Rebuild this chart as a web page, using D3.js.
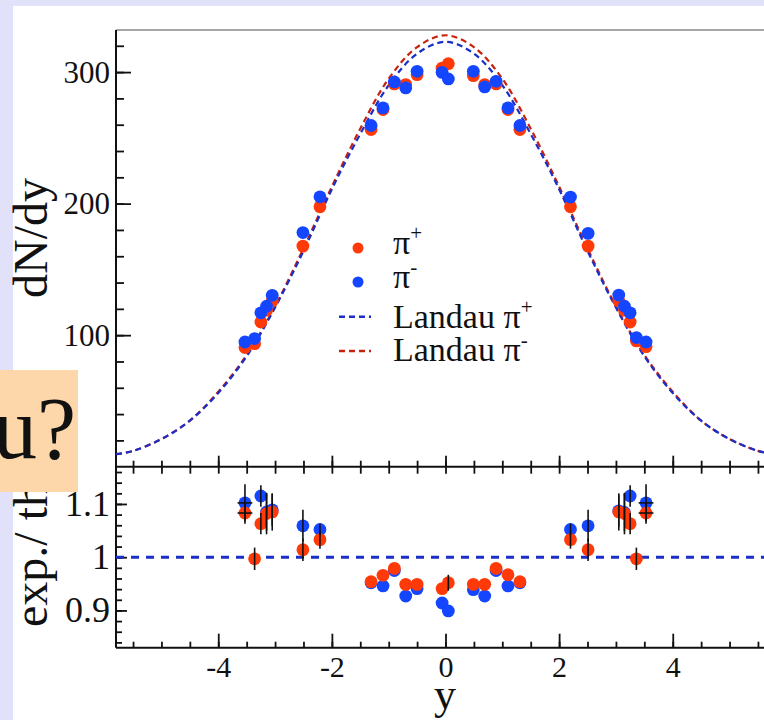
<!DOCTYPE html>
<html>
<head>
<meta charset="utf-8">
<script src="https://cdn.jsdelivr.net/npm/d3@7"></script>
<style>
  html, body { margin: 0; padding: 0; background: #e1e1f9; }
  svg { display: block; }
  text { font-family: "Liberation Serif", "DejaVu Serif", serif; fill: #111; }
</style>
</head>
<body>
<svg id="chart" width="764" height="720"></svg>
<script>
// rapidity of the measured points
var rapidity = [-3.53, -3.36, -3.25, -3.15, -3.05, -2.51, -2.21, -1.31, -1.10, -0.90, -0.70, -0.50, -0.06,
                0.05, 0.49, 0.69, 0.89, 1.10, 1.31, 2.20, 2.51, 3.05, 3.15, 3.25, 3.36, 3.53];
// dN/dy, pi+ (red) and pi- (blue)
var piPlus  = [90.6, 93.5, 110, 119, 126, 167.7, 197.6, 256.3, 271.5, 291, 290.5, 298, 303,
               306.4, 297.3, 290.5, 291, 271.5, 256.3, 197.6, 167.7, 126, 119, 110, 95.6, 91.3];
var piMinus = [94.8, 97.4, 117, 122, 130.3, 178, 205.2, 259.4, 272.8, 292.5, 288, 300.6, 299.8,
               294.8, 300.6, 288.7, 293, 272.8, 259.4, 205, 177.4, 130.5, 122, 117, 98.2, 94.8];
// exp./theory ratios
var ratioPlus  = [1.083, 0.997, 1.063, 1.082, 1.085, 1.014, 1.033, 0.954, 0.966, 0.979, 0.949, 0.949, 0.941,
                  0.952, 0.949, 0.949, 0.979, 0.967, 0.954, 1.033, 1.014, 1.085, 1.082, 1.063, 0.997, 1.083];
var ratioMinus = [1.102, null, 1.115, 1.085, 1.089, 1.059, 1.052, 0.952, 0.946, 0.975, 0.927, 0.941, 0.914,
                  0.899, 0.939, 0.927, 0.975, 0.946, 0.952, 1.052, 1.059, 1.087, 1.084, 1.115, null, 1.102];
var errPlus  = [0.02, 0.021, 0.02, 0.039, 0.035, 0.021, 0.017, 0, 0, 0, 0, 0, 0,
                0.015, 0, 0, 0, 0, 0, 0.017, 0.021, 0.035, 0.039, 0.02, 0.021, 0.02];
var errMinus = [0.035, 0, 0.02, 0.035, 0.03, 0.03, 0.011, 0, 0, 0, 0, 0, 0,
                0, 0, 0, 0, 0, 0, 0.011, 0.03, 0.03, 0.035, 0.02, 0, 0.035];
var xErr = [0.13, 0, 0, 0, 0, 0, 0, 0, 0, 0, 0, 0, 0,
            0, 0, 0, 0, 0, 0, 0, 0, 0, 0, 0, 0, 0.13];

// Landau hydro curves
var curveY = [-5.8, -5.5, -5, -4.5, -4, -3.5, -3, -2.5, -2, -1.5, -1, -0.5, 0,
              0.5, 1, 1.5, 2, 2.5, 3, 3.5, 4, 4.5, 5, 5.5, 5.8];
var landauPlus  = [9.5, 12, 21, 35, 56, 84, 121, 164, 211, 253, 290, 314, 323,
                   314, 290, 253, 211, 164, 121, 84, 56, 35, 21, 12, 9.5];
var landauMinus = [9.5, 12, 21, 35, 57, 85, 122, 166, 213, 257, 295, 319, 328,
                   319, 295, 257, 213, 166, 122, 85, 57, 35, 21, 12, 9.5];

var xTicks = [-4, -2, 0, 2, 4];
var yTicksTop = [100, 200, 300];
var yTicksBot = [0.9, 1, 1.1];

var red = '#ff3a08', blue = '#1446ff',
    redLine = '#c8220e', blueLine = '#1a2fc8';

var svg = d3.select('#chart');

svg.append('rect').attr('x', 13).attr('y', 6).attr('width', 751).attr('height', 714).attr('fill', 'white');

var x = d3.scaleLinear().domain([-5.8, 5.8]).range([116, 775]);
var yTop = d3.scaleLinear().domain([0, 332]).range([466.7, 30]);
var yBot = d3.scaleLinear().domain([0.83, 1.17]).range([647.7, 466.7]);

var clip = svg.append('clipPath').attr('id', 'clipTop');
clip.append('rect').attr('x', 116).attr('y', 30).attr('width', 660).attr('height', 437);

// helper: draw one axis group and style it
function axis(gen, tx, ty, len, labels, pad, size) {
    var g = svg.append('g').attr('transform', 'translate(' + tx + ',' + ty + ')')
        .call(gen.tickSize(len).tickPadding(pad || 6)
            .tickFormat(labels ? function(d){ return String(d); } : ''));
    g.select('.domain').remove();
    g.selectAll('line').attr('stroke', '#111').attr('stroke-width', 1.8);
    g.selectAll('text').style('font-size', (size || 31) + 'px')
        .style('font-family', '"Liberation Serif", serif').attr('fill', '#111');
    return g;
}

function minorTicks(a, b, step) {
    var out = [];
    for (var v = a; v <= b + 1e-9; v += step) out.push(+v.toFixed(4));
    return out;
}

// ---- upper panel ----
axis(d3.axisLeft(yTop).tickValues(minorTicks(20, 320, 20)), 116, 0, -8, false);
axis(d3.axisLeft(yTop).tickValues(yTicksTop), 116, 0, -15, true, 6);
axis(d3.axisBottom(x).tickValues(minorTicks(-5.5, 5.5, 0.5)), 0, 466.7, -6, false);
axis(d3.axisBottom(x).tickValues(xTicks), 0, 466.7, -11, false);

// frame lines
svg.append('line').attr('x1', 116).attr('x2', 764).attr('y1', 30).attr('y2', 30)
    .attr('stroke', '#888').attr('stroke-width', 1.5);
svg.append('line').attr('x1', 116).attr('x2', 116).attr('y1', 30).attr('y2', 647.7)
    .attr('stroke', '#111').attr('stroke-width', 2);
svg.append('line').attr('x1', 116).attr('x2', 764).attr('y1', 466.7).attr('y2', 466.7)
    .attr('stroke', '#111').attr('stroke-width', 2);
svg.append('line').attr('x1', 116).attr('x2', 764).attr('y1', 647.7).attr('y2', 647.7)
    .attr('stroke', '#111').attr('stroke-width', 2);

var line = d3.line().curve(d3.curveCatmullRom)
    .x(function(d){ return x(d[0]); }).y(function(d){ return yTop(d[1]); });

var curves = svg.append('g').attr('clip-path', 'url(#clipTop)');
curves.append('path').datum(d3.zip(curveY, landauMinus)).attr('d', line)
    .attr('fill', 'none').attr('stroke', redLine).attr('stroke-width', 2.2).attr('stroke-dasharray', '6,4');
curves.append('path').datum(d3.zip(curveY, landauPlus)).attr('d', line)
    .attr('fill', 'none').attr('stroke', blueLine).attr('stroke-width', 2.2).attr('stroke-dasharray', '6,4');

svg.append('g').selectAll('circle').data(d3.zip(rapidity, piPlus)).enter()
    .append('circle').attr('cx', function(d){ return x(d[0]); }).attr('cy', function(d){ return yTop(d[1]); })
    .attr('r', 6.4).attr('fill', red);
svg.append('g').selectAll('circle').data(d3.zip(rapidity, piMinus)).enter()
    .append('circle').attr('cx', function(d){ return x(d[0]); }).attr('cy', function(d){ return yTop(d[1]); })
    .attr('r', 6.4).attr('fill', blue);

// legend
var legend = svg.append('g');
legend.append('circle').attr('cx', 358).attr('cy', 248).attr('r', 5.5).attr('fill', red);
legend.append('circle').attr('cx', 358).attr('cy', 282).attr('r', 5.5).attr('fill', blue);
legend.append('line').attr('x1', 339).attr('x2', 371).attr('y1', 316.7).attr('y2', 316.7)
    .attr('stroke', blueLine).attr('stroke-width', 2.4).attr('stroke-dasharray', '6,4');
legend.append('line').attr('x1', 339).attr('x2', 371).attr('y1', 351).attr('y2', 351)
    .attr('stroke', redLine).attr('stroke-width', 2.4).attr('stroke-dasharray', '6,4');
var legendRows = [['', '+', 254], ['', '-', 288], ['Landau ', '+', 328], ['Landau ', '-', 361]];
legendRows.forEach(function(r) {
    var t = legend.append('text').attr('x', 393).attr('y', r[2]).style('font-size', '34px');
    t.append('tspan').text(r[0] + '\u03c0');
    t.append('tspan').attr('dy', -14).style('font-size', '21px').text(r[1]);
});

// ---- lower panel ----
axis(d3.axisLeft(yBot).tickValues(minorTicks(0.84, 1.16, 0.02)), 116, 0, -6, false);
axis(d3.axisLeft(yBot).tickValues(yTicksBot), 116, 0, -11, true, 6, 36);
axis(d3.axisTop(x).tickValues(minorTicks(-5.5, 5.5, 0.5)), 0, 466.7, -7, false);
axis(d3.axisBottom(x).tickValues(minorTicks(-5.5, 5.5, 0.5)), 0, 647.7, -6, false);
axis(d3.axisBottom(x).tickValues(xTicks), 0, 647.7, -14, true, 8, 30);

svg.append('line').attr('x1', 116).attr('x2', 764).attr('y1', yBot(1)).attr('y2', yBot(1))
    .attr('stroke', blueLine).attr('stroke-width', 3).attr('stroke-dasharray', '8,7');

function ratioPoints(vals, colour) {
    var pts = rapidity.map(function(r, i){ return [r, vals[i]]; })
        .filter(function(d){ return d[1] !== null; });
    svg.append('g').selectAll('circle').data(pts).enter()
        .append('circle').attr('cx', function(d){ return x(d[0]); }).attr('cy', function(d){ return yBot(d[1]); })
        .attr('r', 6.4).attr('fill', colour);
}
ratioPoints(ratioMinus, blue);
ratioPoints(ratioPlus, red);

function errorBars(vals, errs) {
    var g = svg.append('g').attr('stroke', '#111').attr('stroke-width', 1.6);
    rapidity.forEach(function(r, i) {
        if (vals[i] === null) return;
        if (errs[i] > 0)
            g.append('line').attr('x1', x(r)).attr('x2', x(r))
                .attr('y1', yBot(vals[i] - errs[i])).attr('y2', yBot(vals[i] + errs[i]));
        if (xErr[i] > 0)
            g.append('line').attr('x1', x(r - xErr[i])).attr('x2', x(r + xErr[i]))
                .attr('y1', yBot(vals[i])).attr('y2', yBot(vals[i]));
    });
}
errorBars(ratioMinus, errMinus);
errorBars(ratioPlus, errPlus);

// axis titles
svg.append('text').attr('transform', 'translate(47,238) rotate(-90)')
    .attr('text-anchor', 'middle').style('font-size', '48px').text('dN/dy');
svg.append('text').attr('transform', 'translate(47,627) rotate(-90)')
    .attr('text-anchor', 'start').style('font-size', '48px').text('exp./ th');
svg.append('text').attr('x', 445).attr('y', 709).attr('text-anchor', 'middle')
    .style('font-size', '44px').text('y');

// overlay box from the slide
svg.append('rect').attr('x', 0).attr('y', 370).attr('width', 78).attr('height', 122).attr('fill', '#fdd6a9');
svg.append('text').attr('x', 76).attr('y', 458).attr('text-anchor', 'end')
    .style('font-size', '88px').text('u?');
</script>
</body>
</html>
